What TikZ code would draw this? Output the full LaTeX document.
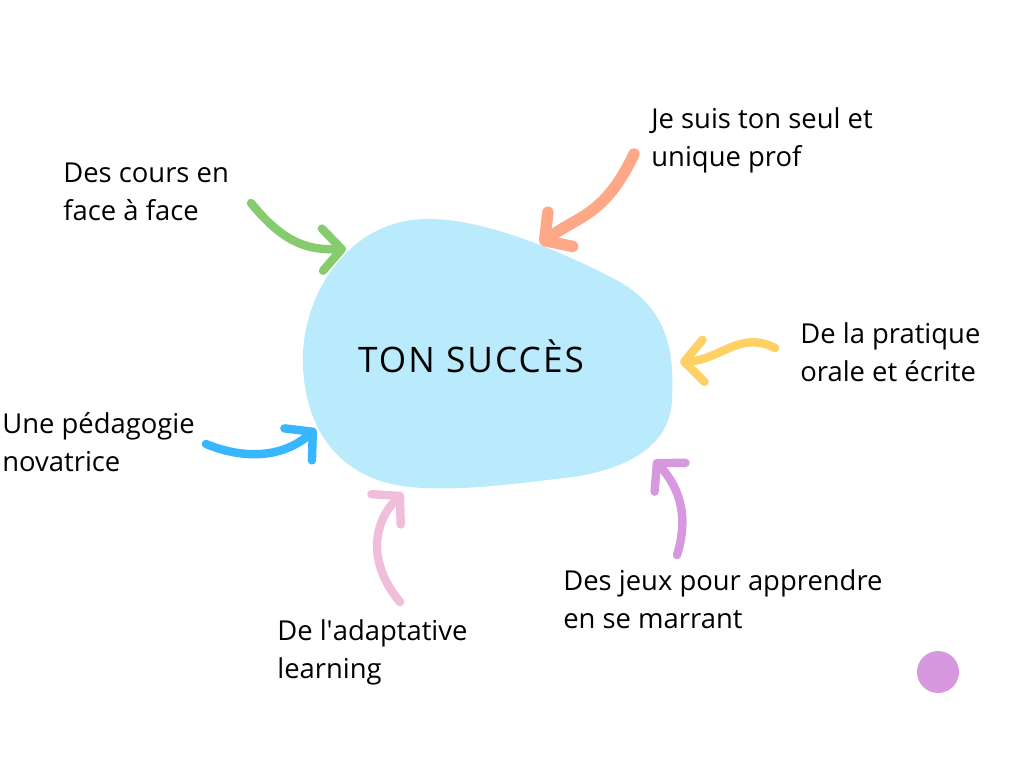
\documentclass[tikz,border=0pt]{standalone}
\usepackage{fontspec}
\setmainfont{Open Sans}
\usetikzlibrary{arrows.meta}
\definecolor{blobblue}{HTML}{B9EBFD}
\definecolor{arrowgreen}{HTML}{86CC6E}
\definecolor{arroworange}{HTML}{FFA887}
\definecolor{arrowyellow}{HTML}{FFD064}
\definecolor{arrowblue}{HTML}{38B6FF}
\definecolor{arrowpink}{HTML}{F0BEDA}
\definecolor{arrowpurple}{HTML}{D798E0}
\tikzset{
	label/.style = {anchor = west, align = left, inner sep = 0pt,
		font = \fontsize{15.6}{21.5}\selectfont},
	brush/.style = {line width = 4.8pt, line cap = round,
		-{Straight Barb[length = 11pt, width = 24pt, round]}}
}
\begin{document}
\begin{tikzpicture}[x = 0.02cm, y = -0.02cm]
	\useasboundingbox (0,0) rectangle (1024,768);
	\fill[color = blobblue] (303,365) .. controls (300,300) and (345,222) .. (423,219)
		.. controls (480,217) and (560,250) .. (620,282)
		.. controls (672,312) and (674,360) .. (672,400)
		.. controls (670,445) and (630,468) .. (573,477)
		.. controls (520,483) and (460,492) .. (410,487)
		.. controls (340,480) and (305,430) .. (303,365);
	\node[font = \fontsize{20}{24}\selectfont\addfontfeature{LetterSpace=6}] (succes) at (471,356) {TON SUCCÈS};

	\node[label] (cours) at (63,192) {Des cours en\\face à face};
	\node[label] (prof) at (651,140) {Je suis ton seul et\\unique prof};
	\node[label] (pratique) at (800,352) {De la pratique\\orale et écrite};
	\node[label] (peda) at (2,442) {Une pédagogie\\novatrice};
	\node[label] (jeux) at (563,599) {Des jeux pour apprendre\\en se marrant};
	\node[label] (adapt) at (277,652) {De l\textquotesingle adaptative\\learning};

	\coordinate (cours-s) at (251,203);
	\coordinate (cours-t) at (346,249);
	\coordinate (prof-s) at (634,154);
	\coordinate (prof-t) at (540,244);
	\coordinate (pratique-s) at (775,348);
	\coordinate (pratique-t) at (680,362);
	\coordinate (peda-s) at (206,444);
	\coordinate (peda-t) at (316,429);
	\coordinate (adapt-s) at (400,602);
	\coordinate (adapt-t) at (403,493);
	\coordinate (jeux-s) at (677,555);
	\coordinate (jeux-t) at (654,460);

	\draw[brush, color = arrowgreen] (cours-s) .. controls (285,245) and (310,250) .. (cours-t);
	\draw[brush, color = arroworange, line width = 6.5pt] (prof-s) .. controls (605,215) and (580,215) .. (prof-t);
	\draw[brush, color = arrowyellow] (pratique-s) .. controls (740,330) and (720,360) .. (pratique-t);
	\draw[brush, color = arrowblue] (peda-s) .. controls (240,458) and (280,460) .. (peda-t);
	\draw[brush, color = arrowpink] (adapt-s) .. controls (365,560) and (375,520) .. (adapt-t);
	\draw[brush, color = arrowpurple] (jeux-s) .. controls (688,520) and (682,490) .. (jeux-t);

	\fill[color = arrowpurple] (938,672) circle(21);
\end{tikzpicture}
\end{document}
